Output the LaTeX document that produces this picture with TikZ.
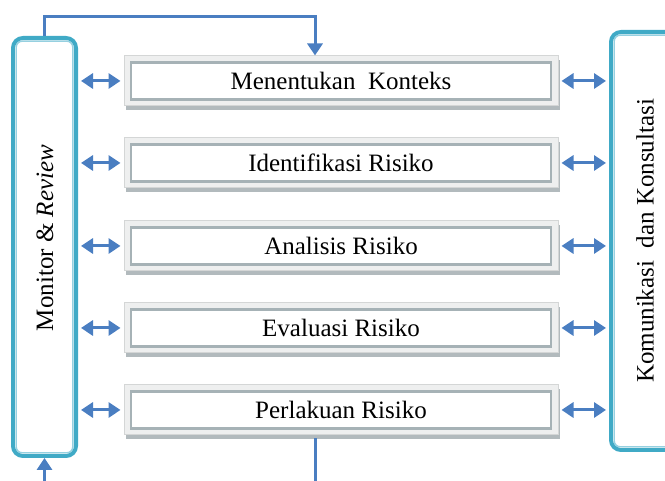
\documentclass[tikz,border=0pt]{standalone}
\usepackage{fontspec}
\setmainfont{Liberation Serif}
\usetikzlibrary{arrows.meta,positioning,shadows}

\definecolor{tealline}{RGB}{64,170,198}
\definecolor{tealpale}{RGB}{150,208,224}
\definecolor{arrowblue}{RGB}{74,126,193}
\definecolor{framegray}{RGB}{238,239,239}
\definecolor{frameedge}{RGB}{212,214,214}
\definecolor{innergray}{RGB}{166,178,182}
\definecolor{shadowgray}{RGB}{178,186,189}

\tikzset{
  sidebox/.style={draw=tealline, line width=2pt, rounded corners=5pt, fill=white},
  sideinner/.style={draw=tealpale, line width=0.7pt, rounded corners=3pt},
  stepframe/.style={draw=frameedge, line width=0.5pt, fill=framegray,
    minimum width=217pt, minimum height=25pt,
    drop shadow={shadow xshift=1.2pt, shadow yshift=-2pt, fill=shadowgray, opacity=1}},
  stepbox/.style={draw=innergray, line width=1.2pt, fill=white,
    minimum width=210pt, minimum height=18.5pt, inner sep=0pt,
    font=\fontsize{12.5}{14}\selectfont},
  sidetext/.style={rotate=90, font=\fontsize{12.5}{14}\selectfont},
  link/.style={draw=arrowblue, line width=1.5pt, {Triangle[length=6pt,width=7.5pt]}-{Triangle[length=6pt,width=7.5pt]}},
  flow/.style={draw=arrowblue, line width=1.5pt, -{Triangle[length=6pt,width=7.5pt]}},
  plain/.style={draw=arrowblue, line width=1.5pt}
}

\begin{document}
\begin{tikzpicture}[x=0.5pt,y=0.5pt]
  \useasboundingbox (0,0) rectangle (665,481);
  \clip (0,0) rectangle (665,481);

  % side boxes
  \node[sidebox, minimum width=31.5pt, minimum height=209pt] (lbox) at (44.5,234) {};
  \draw[sideinner] ([shift={(2.6pt,2.6pt)}]lbox.south west) rectangle ([shift={(-2.6pt,-2.6pt)}]lbox.north east);
  \node[sidetext] (mon) at (45,243) {Monitor \& \textit{Review}};

  \node[sidebox, minimum width=34pt, minimum height=209pt] (rbox) at (645,240) {};
  \draw[sideinner] ([shift={(2.6pt,2.6pt)}]rbox.south west) rectangle ([shift={(-2.6pt,-2.6pt)}]rbox.north east);
  \node[sidetext] (kom) at (645,240) {Komunikasi\ \ dan Konsultasi};

  % process steps
  \node[stepframe] (f1) at (341,400) {};
  \node[stepbox] (s1) at (f1) {Menentukan\ \ Konteks};
  \node[stepframe] (f2) at (341,318) {};
  \node[stepbox] (s2) at (f2) {Identifikasi Risiko};
  \node[stepframe] (f3) at (341,235) {};
  \node[stepbox] (s3) at (f3) {Analisis Risiko};
  \node[stepframe] (f4) at (341,153) {};
  \node[stepbox] (s4) at (f4) {Evaluasi Risiko};
  \node[stepframe] (f5) at (341,71) {};
  \node[stepbox] (s5) at (f5) {Perlakuan Risiko};

  % two-way links to the side boxes
  \foreach \i in {1,...,5}{
    \draw[link, shorten <=1.5pt, shorten >=1.5pt] (lbox.east |- f\i) -- (f\i.west);
    \draw[link, shorten <=1.5pt, shorten >=1.5pt] (f\i.east) -- (rbox.west |- f\i);
  }

  % feedback from monitor to context
  \coordinate (topturn) at (0,464);
  \draw[flow] (lbox.north) -- (lbox.north |- topturn) -| ([xshift=-13pt]f1.north);

  % input and output
  \coordinate (in) at (44.5,0);
  \draw[flow] (in) -- (lbox.south);
  \coordinate (out) at (315,0);
  \draw[plain] ([xshift=-13pt,yshift=-1.5pt]f5.south) -- (out);
\end{tikzpicture}
\end{document}
